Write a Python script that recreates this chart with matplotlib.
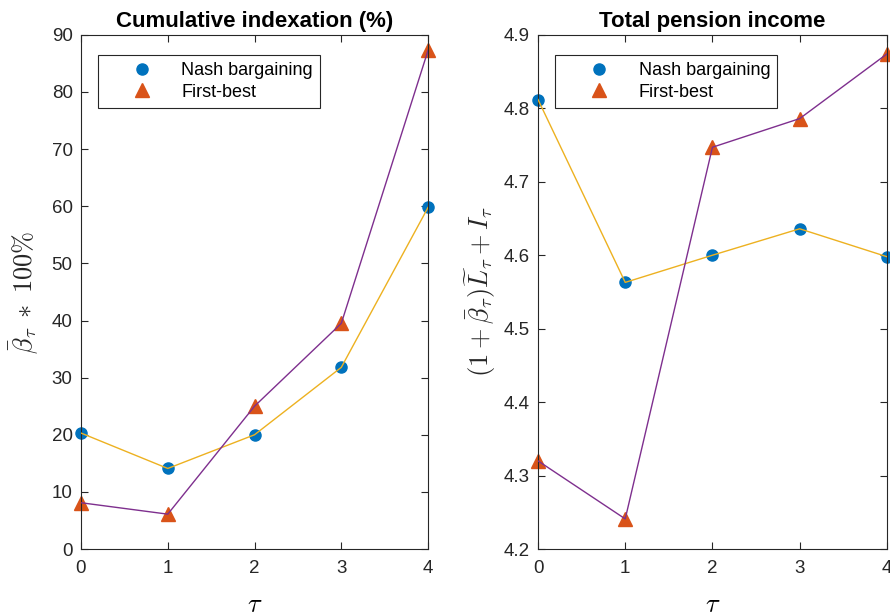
import matplotlib
matplotlib.use("Agg")
import matplotlib.pyplot as plt
from matplotlib.lines import Line2D

plt.rcParams['font.family'] = ['Liberation Sans', 'DejaVu Sans']
plt.rcParams['mathtext.fontset'] = 'cm'

tau = [0, 1, 2, 3, 4]
idx_nash = [20.3, 14.1, 20.0, 31.8, 59.8]
idx_fb = [8.1, 6.1, 25.0, 39.5, 87.3]
inc_nash = [4.812, 4.563, 4.600, 4.636, 4.598]
inc_fb = [4.320, 4.241, 4.747, 4.786, 4.874]

titles = ['Cumulative indexation (%)', 'Total pension income']
ylabels = [r'$\bar{\beta}_\tau\;*\;100\%$', r'$(1+\bar{\beta}_\tau)\widetilde{L}_\tau + I_\tau$']
ylims = [(0, 90), (4.2, 4.9)]
yticks = [list(range(0, 91, 10)), [4.2, 4.3, 4.4, 4.5, 4.6, 4.7, 4.8, 4.9]]
yfmt = ['{:.0f}', '{:.1f}']

blue = '#0072BD'
red = '#D95319'
yellow = '#EDB120'
purple = '#7E2F8E'
axcol = '#262626'

fig = plt.figure(figsize=(8.9, 6.15), dpi=100)
positions = [[0.091, 0.1073, 0.390, 0.836], [0.6045, 0.1073, 0.392, 0.836]]
ylabel_x = [-0.118, -0.115]
datasets = [(idx_nash, idx_fb), (inc_nash, inc_fb)]

for i in range(2):
    ax = fig.add_axes(positions[i])
    nash, fb = datasets[i]
    ax.plot(tau, nash, linestyle='none', marker='o', markersize=8, color=blue,
            zorder=2, clip_on=False)
    ax.plot(tau, fb, linestyle='none', marker='^', markersize=9.5, color=red,
            zorder=2, clip_on=False)
    ax.plot(tau, nash, color=yellow, linewidth=1.0, zorder=3)
    ax.plot(tau, fb, color=purple, linewidth=1.0, zorder=3)
    ax.set_xlim(0, 4)
    ax.set_ylim(*ylims[i])
    ax.set_xticks(tau)
    ax.set_yticks(yticks[i])
    ax.set_yticklabels([yfmt[i].format(v) for v in yticks[i]])
    ax.tick_params(direction='in', top=True, right=True, labelsize=13.5,
                   colors=axcol, length=5, width=0.8)
    ax.tick_params(axis='x', pad=8)
    ax.tick_params(axis='y', pad=6)
    for s in ax.spines.values():
        s.set_color(axcol)
        s.set_linewidth(0.8)
    ax.set_title(titles[i], fontsize=16, fontweight='bold', pad=6)
    ax.set_xlabel(r'$\tau$', fontsize=19)
    ax.xaxis.set_label_coords(0.5, -0.085)
    ax.set_ylabel(ylabels[i], fontsize=19, color=axcol)
    ax.yaxis.set_label_coords(ylabel_x[i], 0.5)
    handles = [Line2D([], [], linestyle='none', marker='o', markersize=8, color=blue),
               Line2D([], [], linestyle='none', marker='^', markersize=9.5, color=red)]
    leg = ax.legend(handles, ['Nash bargaining', 'First-best'], loc='upper left',
                    bbox_to_anchor=(0.05, 0.961), fontsize=13, frameon=True,
                    fancybox=False, edgecolor=axcol, framealpha=1,
                    handlelength=4.0, handletextpad=0.2, borderpad=0.4,
                    labelspacing=0.25, borderaxespad=0)
    leg.get_frame().set_linewidth(0.8)

fig.savefig('out.png', dpi=100)
